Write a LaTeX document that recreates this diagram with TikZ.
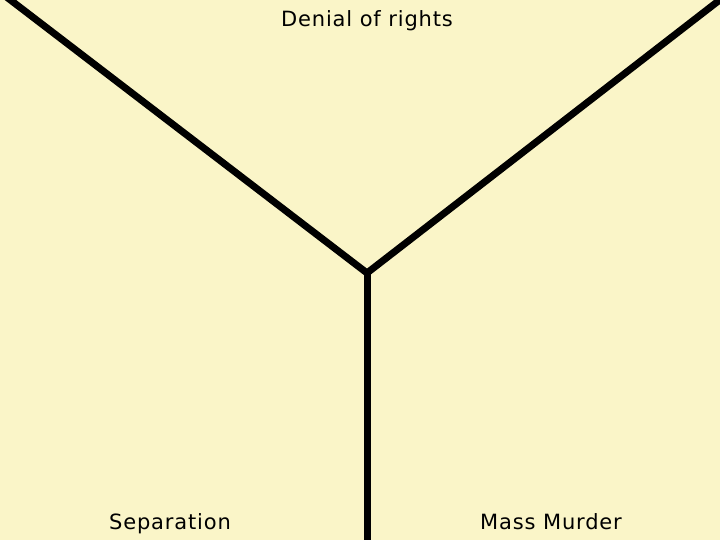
\documentclass[tikz,border=0pt]{standalone}
\usepackage{fontspec}
\setmainfont{DejaVu Sans}[LetterSpace=4]
\definecolor{bg}{HTML}{FAF5C8}
\begin{document}
\begin{tikzpicture}[x=1pt,y=-1pt,
  arm/.style={line width=7pt,black,line cap=butt},
  lbl/.style={font=\fontsize{21}{25}\selectfont,inner sep=0pt,anchor=base}]
\fill[bg] (0,0) rectangle (720,540);
\useasboundingbox (0,0) rectangle (720,540);
\coordinate (tl) at (0,-8);
\coordinate (tr) at (730,-8);
\coordinate (c) at (367,273);
\coordinate (b) at (367,545);
\draw[arm,line join=miter] (tl) -- (c) -- (tr);
\draw[arm] (c) -- (b);
\node[lbl] (d) at (367,27) {Denial of rights};
\node[lbl] (s) at (170,529) {Separation};
\node[lbl] (m) at (551,529) {Mass Murder};
\end{tikzpicture}
\end{document}
